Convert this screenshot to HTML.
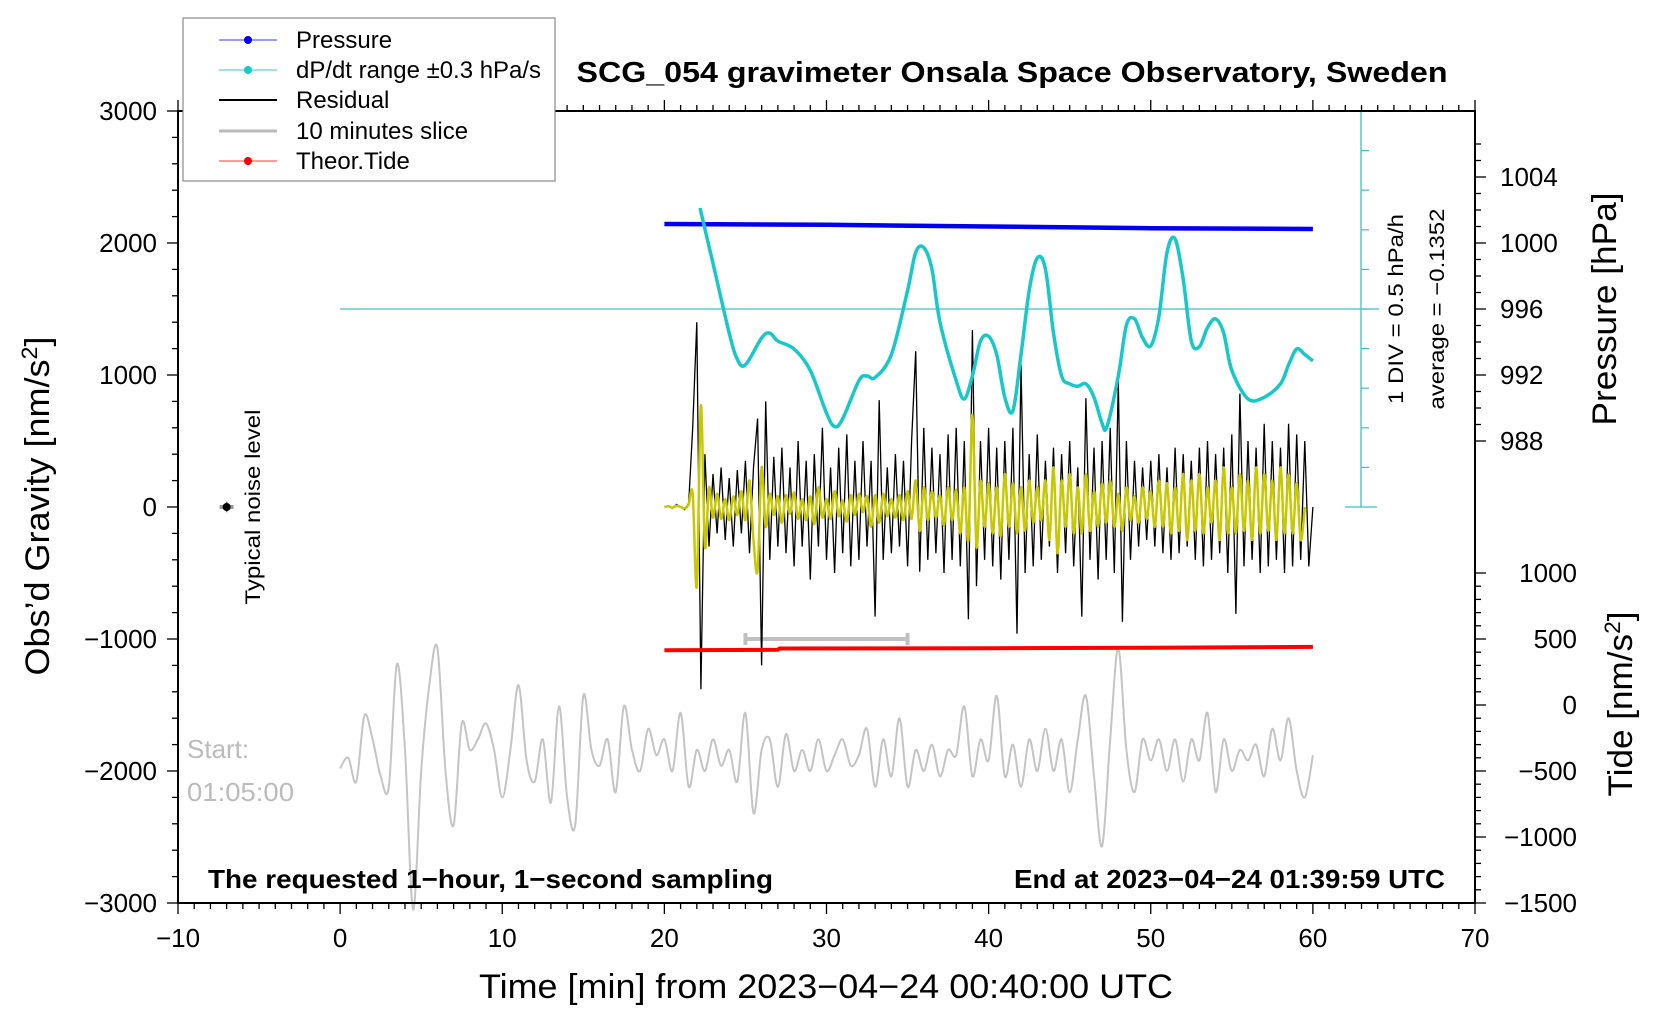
<!DOCTYPE html>
<html><head><meta charset="utf-8"><style>
html,body{margin:0;padding:0;background:#fff;}
svg{display:block;font-family:"Liberation Sans",sans-serif;}
</style></head><body>
<svg id="chart" width="1676" height="1020" viewBox="0 0 1676 1020" xmlns="http://www.w3.org/2000/svg">
<g id="marks"></g>
<g id="axes"></g>
<text x="1012" y="82" text-anchor="middle" font-size="29" font-weight="bold" textLength="871" lengthAdjust="spacingAndGlyphs">SCG_054 gravimeter Onsala Space Observatory, Sweden</text>
<text x="826" y="998" text-anchor="middle" font-size="34" textLength="694" lengthAdjust="spacingAndGlyphs">Time [min] from 2023−04−24 00:40:00 UTC</text>
<text transform="translate(49,506) rotate(-90)" text-anchor="middle" font-size="34" textLength="339" lengthAdjust="spacingAndGlyphs">Obs’d Gravity [nm/s<tspan font-size="22" dy="-12">2</tspan><tspan dy="12">]</tspan></text>
<text transform="translate(1616,309) rotate(-90)" text-anchor="middle" font-size="34" textLength="233" lengthAdjust="spacingAndGlyphs">Pressure [hPa]</text>
<text transform="translate(1632,704) rotate(-90)" text-anchor="middle" font-size="34" textLength="185" lengthAdjust="spacingAndGlyphs">Tide [nm/s<tspan font-size="22" dy="-12">2</tspan><tspan dy="12">]</tspan></text>
<text transform="translate(260,507) rotate(-90)" text-anchor="middle" font-size="21" textLength="195" lengthAdjust="spacingAndGlyphs">Typical noise level</text>
<text transform="translate(1403,309) rotate(-90)" text-anchor="middle" font-size="21" textLength="190" lengthAdjust="spacingAndGlyphs">1 DIV = 0.5 hPa/h</text>
<text transform="translate(1444,309) rotate(-90)" text-anchor="middle" font-size="21" textLength="201" lengthAdjust="spacingAndGlyphs">average = −0.1352</text>
<text x="187" y="758" font-size="26" fill="#bbbbbb">Start:</text>
<text x="187" y="801" font-size="26" fill="#bbbbbb" textLength="107" lengthAdjust="spacingAndGlyphs">01:05:00</text>
<text x="208" y="888" font-size="26" font-weight="bold" textLength="565" lengthAdjust="spacingAndGlyphs">The requested 1−hour, 1−second sampling</text>
<text x="1445" y="888" text-anchor="end" font-size="26" font-weight="bold" textLength="431" lengthAdjust="spacingAndGlyphs">End at 2023−04−24 01:39:59 UTC</text>
<g>
<rect x="183" y="18" width="372" height="163" fill="#fff" stroke="#888" stroke-width="1.2"/>
<g><line x1="219" y1="40" x2="277" y2="40" stroke="#6060ff" stroke-width="1.2"/><circle cx="248" cy="40" r="4" fill="#0000ff"/><text x="296" y="48" font-size="24">Pressure</text></g>
<g><line x1="219" y1="70" x2="277" y2="70" stroke="#60d0d0" stroke-width="1.2"/><circle cx="248" cy="70" r="4" fill="#10cccc"/><text x="296" y="78" font-size="24" textLength="245" lengthAdjust="spacingAndGlyphs">dP/dt range ±0.3 hPa/s</text></g>
<g><line x1="219" y1="100" x2="277" y2="100" stroke="#000" stroke-width="2"/><text x="296" y="108" font-size="24">Residual</text></g>
<g><line x1="219" y1="131" x2="277" y2="131" stroke="#bbbbbb" stroke-width="3"/><text x="296" y="139" font-size="24">10 minutes slice</text></g>
<g><line x1="219" y1="161" x2="277" y2="161" stroke="#ff6060" stroke-width="1.2"/><circle cx="248" cy="161" r="4" fill="#ff0000"/><text x="296" y="169" font-size="24">Theor.Tide</text></g>
</g>
</svg>
<script>
// ---- data ----
const pressureTimes = [20, 30, 40, 50, 60];
const pressureValues = [1001.15, 1001.1, 1001.0, 1000.9, 1000.85];
const tideTimes = [20, 27, 27.1, 40, 50, 60];
const tideValues = [415, 418, 428, 430, 434, 440];
const dpdtTimes = [22.2,23,24,24.5,25,26,26.5,27,28,29,30,30.5,31,32,32.5,33,34,35,35.5,36,36.5,37,38,38.5,39,39.5,40,40.5,41,41.5,42,42.5,43,43.5,44,44.5,45,45.5,46,46.5,47,47.3,48,48.5,49,49.5,50,50.5,51,51.5,52,52.5,53,53.5,54,54.5,55,56,57,58,58.5,59,59.5,60];
const dpdtValues = [1.14,0.44,-0.44,-0.77,-0.84,-0.50,-0.44,-0.54,-0.64,-0.91,-1.45,-1.62,-1.52,-1.04,-0.98,-1.00,-0.71,0.10,0.58,0.64,0.37,-0.30,-1.04,-1.27,-0.98,-0.54,-0.48,-0.71,-1.25,-1.42,-0.71,0.10,0.51,0.37,-0.44,-0.98,-1.08,-1.11,-1.08,-1.25,-1.58,-1.62,-0.98,-0.34,-0.26,-0.50,-0.60,-0.23,0.58,0.75,0.24,-0.54,-0.61,-0.37,-0.26,-0.44,-0.91,-1.27,-1.25,-1.08,-0.84,-0.64,-0.71,-0.79];
const dpdtAverage = -0.1352;
const residualStart = 20, residualStep = 0.25;
const residualValues = [0,10,-10,20,0,-20,30,600,1400,-1380,400,-300,250,-200,300,-250,220,-300,280,-200,350,-350,300,670,-1200,800,-400,380,-300,450,-350,300,-450,500,-300,350,-550,400,-300,600,-400,300,-500,450,-350,550,-450,350,-400,500,-300,350,-830,810,-400,300,-350,400,-300,350,-450,500,1180,-490,600,-400,450,-350,400,-500,550,-400,600,-450,500,-850,1340,-600,500,-400,600,-450,450,-550,500,-400,600,-960,1085,-500,400,-450,550,-400,350,-300,450,-500,400,-350,500,-450,300,-830,825,-400,450,-550,500,-400,600,-500,950,-870,500,-400,350,-300,300,-250,350,-300,400,-350,300,-400,450,-350,400,-300,350,-400,450,-450,500,-400,400,-350,450,-500,550,-810,860,-450,500,-400,450,-500,630,-450,500,-400,450,-500,630,-450,550,-400,500,-450,0];
const filteredValues = [0,5,-5,10,0,-10,20,100,-600,770,-300,150,-80,100,-90,60,-100,80,-60,120,-100,200,-250,-480,300,-150,100,-60,80,-120,90,-50,110,-90,60,-100,80,-130,150,-80,60,-90,120,-70,50,-110,90,-60,100,-40,80,-150,90,-120,100,-70,60,-80,90,-100,120,-90,200,-180,150,-100,120,-80,90,-140,150,-100,130,-200,150,-250,700,-300,200,-150,180,-200,150,-220,250,-150,180,-200,150,-180,200,-120,150,-100,200,-250,300,-350,200,-150,250,-200,150,-200,250,-180,120,-150,180,-120,200,-150,100,-180,150,-100,80,-120,150,-90,120,-150,200,-150,180,-200,150,-180,250,-250,200,-180,250,-200,150,-120,200,-250,300,-200,150,-200,250,-180,200,-250,300,-200,250,-180,200,-250,300,-200,250,-200,180,-250,0];
const sliceStart = 0, sliceStep = 0.5;
const sliceValues = [-1980,-1900,-2080,-1580,-1760,-2040,-2120,-1190,-1840,-3050,-2000,-1350,-1070,-2000,-2410,-1640,-1840,-1760,-1640,-1840,-2200,-1840,-1350,-1920,-2080,-1760,-2240,-1510,-2200,-2410,-1430,-1840,-1960,-1760,-2160,-1510,-1840,-2000,-1680,-1880,-1760,-2000,-1560,-2120,-1840,-2000,-1760,-1960,-1840,-2080,-1560,-2320,-1840,-1760,-2120,-1720,-2000,-1840,-2000,-1760,-2000,-1880,-1760,-1960,-1880,-1680,-2120,-1760,-2040,-1600,-2120,-1840,-2000,-1800,-2040,-1840,-1880,-1510,-2040,-1760,-1920,-1430,-2040,-1800,-2120,-1760,-2000,-1680,-2000,-1760,-2160,-1760,-1430,-2040,-2570,-1760,-1070,-1840,-2160,-1760,-1920,-1760,-2000,-1760,-2080,-1760,-1920,-1560,-2160,-1760,-2000,-1840,-1920,-1800,-2040,-1680,-1920,-1600,-2000,-2200,-1880];
const sliceBar = [25, 35, -1000];
const noiseLevel = [-7, 0, 40];
const xTicks = [-10,0,10,20,30,40,50,60,70];
const yTicks = [3000,2000,1000,0,-1000,-2000,-3000];
const pressureTicks = [988,992,996,1000,1004];
const tideTicks = [1000,500,0,-500,-1000,-1500];

// ---- axis functions ----
const X = t => 178 + (t + 10) * (1475 - 178) / 80;
const Y = g => 111 + (3000 - g) * (903 - 111) / 6000;
const P = p => Y(2000 + (p - 1000) * 125);
const T = v => Y(v - 1500);
const D = v => Y(1500 + (v - dpdtAverage) * 600);

const NS = 'http://www.w3.org/2000/svg';
const marks = document.getElementById('marks');
const axes = document.getElementById('axes');
function mk(parent, tag, attrs) {
  const e = document.createElementNS(NS, tag);
  for (const k in attrs) e.setAttribute(k, attrs[k]);
  parent.appendChild(e);
  return e;
}
function pts(xs, ys, fy) { return xs.map((t, i) => X(t).toFixed(1) + ',' + fy(ys[i]).toFixed(1)).join(' '); }
function smooth(xs, ys, fy) {
  const p = xs.map((t, i) => [X(t), fy(ys[i])]);
  let d = 'M' + p[0][0].toFixed(1) + ',' + p[0][1].toFixed(1);
  for (let i = 0; i < p.length - 1; i++) {
    const p0 = p[i - 1] || p[i], p1 = p[i], p2 = p[i + 1], p3 = p[i + 2] || p2;
    const c1x = p1[0] + (p2[0] - p0[0]) / 6, c1y = p1[1] + (p2[1] - p0[1]) / 6;
    const c2x = p2[0] - (p3[0] - p1[0]) / 6, c2y = p2[1] - (p3[1] - p1[1]) / 6;
    d += `C${c1x.toFixed(1)},${c1y.toFixed(1)} ${c2x.toFixed(1)},${c2y.toFixed(1)} ${p2[0].toFixed(1)},${p2[1].toFixed(1)}`;
  }
  return d;
}

// cyan dp/dt reference axis
let e = mk(marks, 'line', {x1: X(0), y1: Y(1500), x2: 1379, y2: Y(1500), stroke: '#40c0c0', 'stroke-width': 1.3});


e = mk(marks, 'line', {x1: 1361, y1: Y(3000), x2: 1361, y2: Y(0), stroke: '#40c0c0', 'stroke-width': 1.3});


e = mk(marks, 'line', {x1: 1345, y1: Y(0), x2: 1377, y2: Y(0), stroke: '#40c0c0', 'stroke-width': 1.3});


for (let k = 1; k < 10; k++) {
  const g = k * 300;
  e = mk(marks, 'line', {x1: 1361, y1: Y(g), x2: 1369, y2: Y(g), stroke: '#40c0c0', 'stroke-width': 1.2});
  
  
}

// gray slice
const sliceTimes = sliceValues.map((v, i) => sliceStart + i * sliceStep);
e = mk(marks, 'path', {d: smooth(sliceTimes, sliceValues, Y), fill: 'none', stroke: '#c4c4c4', 'stroke-width': 2, 'stroke-linejoin': 'round'});



// slice bar
e = mk(marks, 'path', {d: `M${X(sliceBar[0])},${Y(sliceBar[2])}H${X(sliceBar[1])}M${X(sliceBar[0])},${Y(sliceBar[2]) - 6}v12M${X(sliceBar[1])},${Y(sliceBar[2]) - 6}v12`, stroke: '#c0c0c0', 'stroke-width': 4, fill: 'none'});



// residual
const resTimes = residualValues.map((v, i) => residualStart + i * residualStep);
e = mk(marks, 'polyline', {points: pts(resTimes, residualValues, Y), fill: 'none', stroke: '#000', 'stroke-width': 1.3});


const filTimes = filteredValues.map((v, i) => residualStart + i * residualStep);
e = mk(marks, 'path', {d: smooth(filTimes, filteredValues, Y), fill: 'none', stroke: '#c8c800', 'stroke-width': 2.5, 'stroke-linejoin': 'round'});



// tide
e = mk(marks, 'polyline', {points: pts(tideTimes, tideValues, T), fill: 'none', stroke: '#ff0000', 'stroke-width': 4});



// pressure
e = mk(marks, 'polyline', {points: pts(pressureTimes, pressureValues, P), fill: 'none', stroke: '#0000ee', 'stroke-width': 4.5});



// dp/dt
e = mk(marks, 'path', {d: smooth(dpdtTimes, dpdtValues, D), fill: 'none', stroke: '#18c8c8', 'stroke-width': 3.5, 'stroke-linejoin': 'round'});



// noise level
e = mk(marks, 'line', {x1: X(noiseLevel[0]), y1: Y(noiseLevel[1] - noiseLevel[2]), x2: X(noiseLevel[0]), y2: Y(noiseLevel[1] + noiseLevel[2]), stroke: '#666', 'stroke-width': 1.5});


e = mk(marks, 'line', {x1: X(noiseLevel[0]) - 7, y1: Y(noiseLevel[1]), x2: X(noiseLevel[0]) + 7, y2: Y(noiseLevel[1]), stroke: '#999', 'stroke-width': 4});


e = mk(marks, 'circle', {cx: X(noiseLevel[0]), cy: Y(noiseLevel[1]), r: 4, fill: '#000'});



// frame
e = mk(axes, 'rect', {x: X(-10), y: Y(3000), width: X(70) - X(-10), height: Y(-3000) - Y(3000), fill: 'none', stroke: '#000', 'stroke-width': 2});



// x ticks
for (let t = -10; t <= 70; t++) {
  const major = t % 10 === 0;
  e = mk(axes, 'line', {x1: X(t), y1: Y(-3000), x2: X(t), y2: Y(-3000) + (major ? 11 : 6), stroke: '#000', 'stroke-width': 1.3});
  
  
  e = mk(axes, 'line', {x1: X(t), y1: Y(3000), x2: X(t), y2: Y(3000) - (major ? 11 : 6), stroke: '#000', 'stroke-width': 1.3});
  
  
}
xTicks.forEach(t => {
  e = mk(axes, 'text', {x: X(t), y: 947, 'text-anchor': 'middle', 'font-size': 26});
  e.textContent = String(t).replace('-', '−');
  
  
});
// y ticks
for (let g = -3000; g <= 3000; g += 200) {
  const major = g % 1000 === 0;
  e = mk(axes, 'line', {x1: X(-10), y1: Y(g), x2: X(-10) - (major ? 11 : 6), y2: Y(g), stroke: '#000', 'stroke-width': 1.3});
  
  
}
yTicks.forEach(g => {
  e = mk(axes, 'text', {x: 157, y: Y(g) + 9, 'text-anchor': 'end', 'font-size': 26});
  e.textContent = String(g).replace('-', '−');
  
  
});
// pressure ticks
for (let p = 988; p <= 1006; p++) {
  const major = (p - 988) % 4 === 0;
  e = mk(axes, 'line', {x1: X(70), y1: P(p), x2: X(70) + (major ? 11 : 6), y2: P(p), stroke: '#000', 'stroke-width': 1.3});
  
  
}
pressureTicks.forEach(p => {
  e = mk(axes, 'text', {x: 1500, y: P(p) + 9, 'font-size': 26});
  e.textContent = String(p);
  
  
});
// tide ticks
for (let v = -1500; v <= 1000; v += 100) {
  const major = v % 500 === 0;
  e = mk(axes, 'line', {x1: X(70), y1: T(v), x2: X(70) + (major ? 11 : 6), y2: T(v), stroke: '#000', 'stroke-width': 1.3});
  
  
}
tideTicks.forEach(v => {
  e = mk(axes, 'text', {x: 1577, y: T(v) + 9, 'text-anchor': 'end', 'font-size': 26});
  e.textContent = String(v).replace('-', '−');
  
  
});
</script>
</body></html>
